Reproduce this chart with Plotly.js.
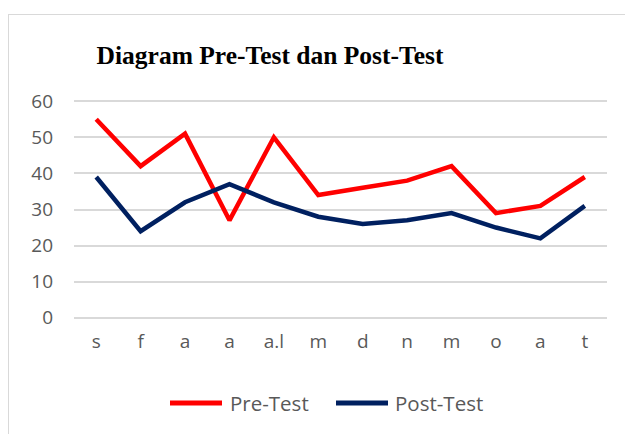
<!DOCTYPE html>
<html>
<head>
<meta charset="utf-8">
<script src="https://cdn.plot.ly/plotly-3.0.1.min.js"></script>
<style>
html,body{margin:0;padding:0;background:#fff;overflow:hidden;}
#frame{position:absolute;left:8px;top:14px;width:700px;height:500px;border:1.5px solid #d9d9d9;box-sizing:border-box;}
#chart{position:absolute;left:0;top:0;width:625px;height:434px;}
</style>
</head>
<body>
<div id="frame"></div>
<div id="chart"></div>
<script>
const categories = ["s","f","a","a","a.l","m","d","n","m","o","a","t"];
const seriesNames = ["Pre-Test","Post-Test"];
const preTest = [55,42,51,27,50,34,36,38,42,29,31,39];
const postTest = [39,24,32,37,32,28,26,27,29,25,22,31];
const yTicks = [0,10,20,30,40,50,60];
const colors = ["#ff0000","#002060"];

const idx = categories.map((c,i)=>i);

const traces = [
  {x: idx, y: preTest, name: seriesNames[0], type: "scatter", mode: "lines",
   line: {color: colors[0], width: 4.5}},
  {x: idx, y: postTest, name: seriesNames[1], type: "scatter", mode: "lines",
   line: {color: colors[1], width: 4.5}}
];

// plot area in pixels
const L = 74, R = 607, T = 99, B = 320;
const px = x => (x - L) / (R - L);
const py = y => (B - y) / (B - T);

// manual legend (line swatches + labels)
const legendY = 403;
const legendItems = [
  {x0: 170, x1: 222, tx: 228},
  {x0: 336, x1: 388, tx: 393}
];
const shapes = legendItems.map((it, i) => ({
  type: "line", xref: "paper", yref: "paper",
  x0: px(it.x0), x1: px(it.x1), y0: py(legendY), y1: py(legendY),
  line: {color: colors[i], width: 5}
}));
const annotations = legendItems.map((it, i) => ({
  xref: "paper", yref: "paper", x: px(it.tx), y: py(legendY),
  xanchor: "left", yanchor: "middle", showarrow: false,
  text: seriesNames[i],
  font: {family: "Open Sans, sans-serif", size: 20.5, color: "#595959"}
}));

const layout = {
  width: 625, height: 434,
  paper_bgcolor: "rgba(0,0,0,0)",
  plot_bgcolor: "rgba(0,0,0,0)",
  margin: {l: L, r: 625 - R, t: T, b: 434 - B},
  title: {
    text: "<b>Diagram Pre-Test dan Post-Test</b>",
    font: {family: "Liberation Serif, Times New Roman, serif", size: 25.5, color: "#000"},
    xref: "container", x: 270/625, xanchor: "center",
    yref: "container", y: 1 - 55/434, yanchor: "middle"
  },
  xaxis: {
    range: [-0.5, 11.5],
    tickvals: idx, ticktext: categories,
    showgrid: false, zeroline: false, showline: false,
    ticks: "", ticklabelstandoff: 8,
    tickfont: {family: "Open Sans, sans-serif", size: 19, color: "#595959"},
    fixedrange: true
  },
  yaxis: {
    range: [-0.6, 60.6],
    tickvals: yTicks,
    showgrid: true, gridcolor: "#d9d9d9", gridwidth: 2,
    zeroline: false, showline: false, ticks: "",
    ticklabelstandoff: 20,
    tickfont: {family: "Open Sans, sans-serif", size: 19, color: "#595959"},
    fixedrange: true
  },
  showlegend: false,
  shapes: shapes,
  annotations: annotations
};

Plotly.newPlot("chart", traces, layout, {displayModeBar: false, staticPlot: true});
</script>
</body>
</html>
